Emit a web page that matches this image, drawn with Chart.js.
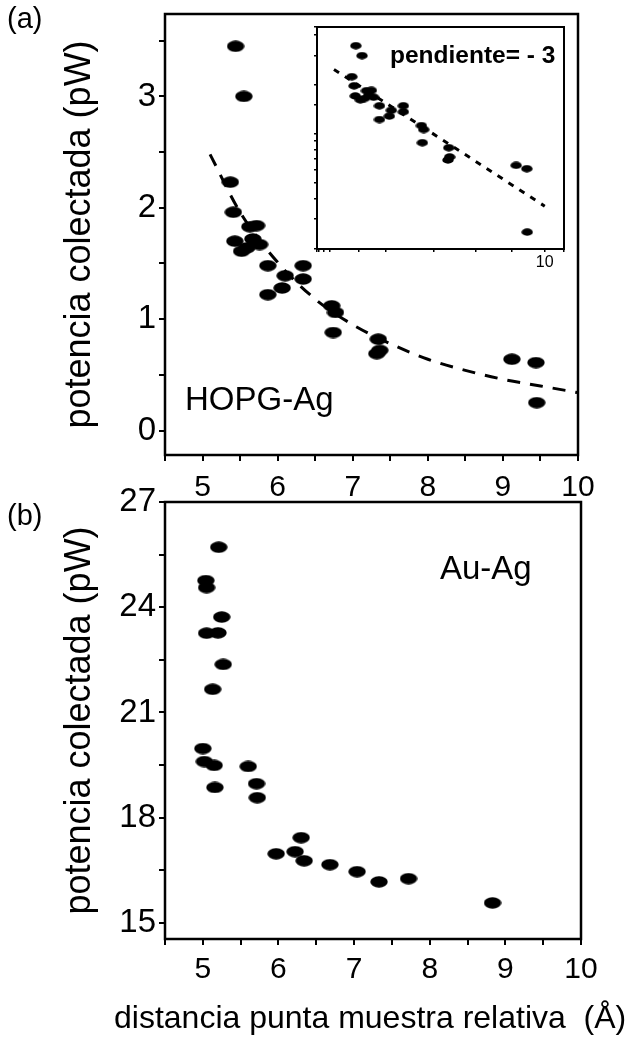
<!DOCTYPE html>
<html>
<head>
<meta charset="utf-8">
<script src="https://cdn.jsdelivr.net/npm/chart.js@4.4.1/dist/chart.umd.min.js"></script>
<style>
  body { margin: 0; background: #fff; width: 627px; height: 1044px; position: relative; overflow: hidden; font-family: "Liberation Sans", Arial, sans-serif; }
  .box { position: absolute; }
  .lbl { position: absolute; color: #000; white-space: nowrap; line-height: 1; }
</style>
</head>
<body>
<div class="box" style="left:0;top:0;width:627px;height:510px"><canvas id="topChart"></canvas></div>
<div class="box" style="left:0;top:470px;width:627px;height:574px"><canvas id="bottomChart"></canvas></div>
<div class="box" style="left:300px;top:20px;width:280px;height:260px"><canvas id="insetChart"></canvas></div>

<div class="lbl" style="left:7px;top:4px;font-size:29px">(a)</div>
<div class="lbl" style="left:7px;top:501px;font-size:29px">(b)</div>
<div class="lbl" style="left:185px;top:382px;font-size:33px">HOPG-Ag</div>
<div class="lbl" style="left:440px;top:551px;font-size:33px">Au-Ag</div>
<div class="lbl" style="left:390px;top:43px;font-size:24.5px;font-weight:bold">pendiente= - 3</div>
<div class="lbl" style="left:114px;top:1001px;font-size:32px">distancia punta muestra relativa&nbsp; (Å)</div>

<script>
// (a) HOPG-Ag: distance (Å) vs collected power (pW)
const hopgX = [5.44, 5.55, 5.37, 5.41, 5.63, 5.72, 5.43, 5.67, 5.76, 5.52, 5.59, 5.87, 6.10, 6.34, 6.34, 6.06, 5.87, 6.72, 6.77, 6.74, 7.34, 7.36, 7.32, 9.12, 9.44, 9.45];
const hopgY = [3.45, 3.00, 2.23, 1.96, 1.83, 1.84, 1.70, 1.72, 1.67, 1.61, 1.64, 1.48, 1.39, 1.48, 1.36, 1.28, 1.22, 1.12, 1.06, 0.88, 0.82, 0.72, 0.69, 0.64, 0.61, 0.25];
// dashed fit curve
const fitX = [5.1, 5.5, 6.0, 6.5, 7.0, 7.5, 8.0, 8.5, 9.0, 9.5, 10.0];
const fitY = [2.48, 1.96, 1.51, 1.18, 0.95, 0.78, 0.64, 0.54, 0.46, 0.40, 0.34];
// inset: log-log fit, slope -3
const slopeX = [5.07, 10.0];
const slopeY = [2.47, 0.36];
// (b) Au-Ag
const auX = [5.21, 5.04, 5.05, 5.25, 5.05, 5.20, 5.27, 5.13, 5.00, 5.02, 5.15, 5.16, 5.60, 5.71, 5.72, 5.97, 6.30, 6.22, 6.34, 6.68, 7.04, 7.33, 7.72, 8.83];
const auY = [25.71, 24.76, 24.56, 23.72, 23.26, 23.27, 22.37, 21.66, 19.97, 19.60, 19.49, 18.86, 19.46, 18.97, 18.57, 16.97, 17.43, 17.03, 16.77, 16.66, 16.46, 16.17, 16.26, 15.57];
const xTicks = [5, 6, 7, 8, 9, 10];
const topYTicks = [0, 1, 2, 3];
const bottomYTicks = [15, 18, 21, 24, 27];

const FONT = '"Liberation Sans", Arial, sans-serif';
const pts = (xs, ys) => xs.map((x, i) => ({ x, y: ys[i] }));

function ellipse(w, h) {
  const c = document.createElement('canvas');
  c.width = w; c.height = h;
  const g = c.getContext('2d');
  g.fillStyle = '#000';
  g.beginPath();
  g.ellipse(w / 2, h / 2, w / 2 - 0.3, h / 2 - 0.3, 0, 0, Math.PI * 2);
  g.fill();
  return c;
}
const bigDot = ellipse(18, 12);
const smallDot = ellipse(12, 8);

// full box round the plot area
const frame = {
  id: 'frame',
  afterDraw(chart, args, opts) {
    const { ctx, chartArea: a } = chart;
    ctx.save();
    ctx.strokeStyle = '#000';
    ctx.lineWidth = opts.width || 2;
    ctx.strokeRect(a.left, a.top, a.right - a.left, a.bottom - a.top);
    ctx.restore();
  }
};
const whiteArea = {
  id: 'whiteArea',
  beforeDraw(chart) {
    const { ctx, chartArea: a } = chart;
    ctx.save();
    ctx.fillStyle = '#fff';
    ctx.fillRect(a.left, a.top, a.right - a.left, a.bottom - a.top);
    ctx.restore();
  }
};

function xAxis(height, pad) {
  return {
    type: 'linear', min: 4.5, max: 10,
    border: { display: false },
    grid: { drawOnChartArea: false, color: '#000', lineWidth: 2, tickLength: 6 },
    ticks: {
      stepSize: 0.5, includeBounds: false, autoSkip: false, maxRotation: 0,
      color: '#000', font: { family: FONT, size: 30 }, padding: pad,
      callback: v => xTicks.includes(v) ? String(v) : ''
    },
    afterFit: s => { s.height = height; s.paddingLeft = 0; s.paddingRight = 0; }
  };
}
function yAxis(min, max, step, list, width) {
  return {
    type: 'linear', min, max,
    border: { display: false },
    grid: { drawOnChartArea: false, color: '#000', lineWidth: 2, tickLength: 6 },
    ticks: {
      stepSize: step, includeBounds: false, autoSkip: false,
      color: '#000', font: { family: FONT, size: 33 }, padding: 3,
      callback: v => list.includes(v) ? String(v) : ''
    },
    title: { display: true, text: 'potencia colectada (pW)', color: '#000', font: { family: FONT, size: 36 }, padding: 4 },
    afterFit: s => { s.width = width; s.paddingTop = 0; s.paddingBottom = 0; }
  };
}
const common = {
  responsive: true, maintainAspectRatio: false, animation: false,
  plugins: { legend: { display: false }, tooltip: { enabled: false }, frame: { width: 2.5 } }
};

new Chart(document.getElementById('topChart'), {
  type: 'scatter',
  data: {
    datasets: [
      { data: pts(hopgX, hopgY), pointStyle: bigDot, pointRadius: 8 },
      { type: 'line', data: pts(fitX, fitY), borderColor: '#000', borderWidth: 3, borderDash: [13, 10],
        pointRadius: 0, cubicInterpolationMode: 'monotone', fill: false }
    ]
  },
  options: {
    ...common,
    layout: { padding: { left: 54, top: 14, right: 49, bottom: 0 } },
    scales: { x: xAxis(55, 9), y: yAxis(-0.22, 3.74, 0.5, topYTicks, 111) }
  },
  plugins: [frame]
});

new Chart(document.getElementById('bottomChart'), {
  type: 'scatter',
  data: { datasets: [{ data: pts(auX, auY), pointStyle: bigDot, pointRadius: 8 }] },
  options: {
    ...common,
    layout: { padding: { left: 54, top: 32, right: 46, bottom: 0 } },
    scales: { x: xAxis(105, 7), y: yAxis(14.54, 27, 1.5, bottomYTicks, 111) }
  },
  plugins: [frame]
});

new Chart(document.getElementById('insetChart'), {
  type: 'scatter',
  data: {
    datasets: [
      { data: pts(hopgX, hopgY), pointStyle: smallDot, pointRadius: 6 },
      { type: 'line', data: pts(slopeX, slopeY), borderColor: '#000', borderWidth: 3, borderDash: [6, 7], pointRadius: 0, fill: false }
    ]
  },
  options: {
    ...common,
    plugins: { ...common.plugins, frame: { width: 2 } },
    layout: { padding: { left: 0, top: 4, right: 16, bottom: 0 } },
    scales: {
      x: {
        type: 'logarithmic', min: 4.82, max: 10.64,
        border: { display: false },
        grid: { drawOnChartArea: false, color: '#000', lineWidth: 1.5, tickLength: 3 },
        ticks: { autoSkip: false, maxRotation: 0, color: '#000', font: { family: FONT, size: 16 }, padding: 1,
          callback: v => v === 10 ? '10' : '' },
        afterFit: s => { s.height = 31; s.paddingLeft = 0; s.paddingRight = 0; }
      },
      y: {
        type: 'logarithmic', min: 0.197, max: 4.49,
        border: { display: false },
        grid: { drawOnChartArea: false, color: '#000', lineWidth: 1.5, tickLength: 3 },
        ticks: { autoSkip: false, callback: () => '' },
        afterFit: s => { s.width = 17; s.paddingTop = 0; s.paddingBottom = 0; }
      }
    }
  },
  plugins: [whiteArea, frame]
});
</script>
</body>
</html>
